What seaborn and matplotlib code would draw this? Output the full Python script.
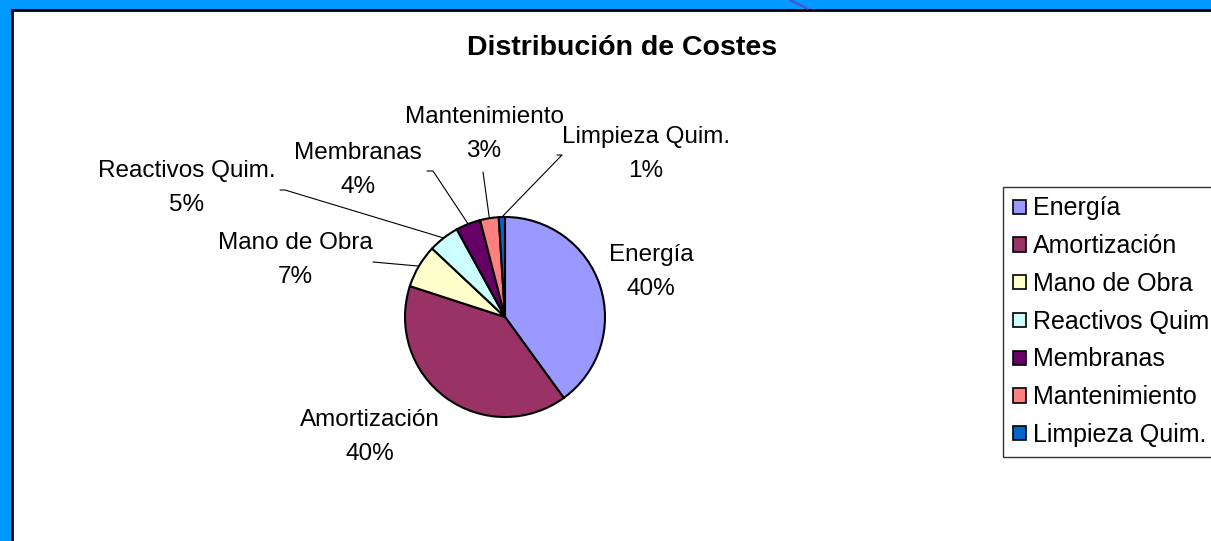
# Distribución de costes - gráfico de tarta estilo Excel
import matplotlib
matplotlib.use("Agg")
import matplotlib.pyplot as plt
import seaborn as sns
import numpy as np

# Datos
categorias = ["Energía", "Amortización", "Mano de Obra", "Reactivos Quim.",
              "Membranas", "Mantenimiento", "Limpieza Quim."]
porcentajes = [40, 40, 7, 5, 4, 3, 1]
colores = ["#9999FF", "#993366", "#FFFFCC", "#CCFFFF", "#660066", "#FF8080", "#0066CC"]

sns.set_style("white")
plt.rcParams["font.family"] = ["Liberation Sans", "DejaVu Sans"]
plt.rcParams["text.color"] = "black"

W, H = 1211, 541
fig = plt.figure(figsize=(W / 100, H / 100), dpi=100, facecolor="#0099FF")

# fondo blanco con borde negro arriba e izquierda
fondo = fig.add_axes([12 / W, 0, 1 - 12 / W, 1 - 10 / H])
fondo.set_facecolor("white")
fondo.set_xticks([])
fondo.set_yticks([])
for lado in ["right", "bottom"]:
    fondo.spines[lado].set_visible(False)
for lado in ["top", "left"]:
    fondo.spines[lado].set_color("black")
    fondo.spines[lado].set_linewidth(2)

# pequeña línea diagonal decorativa arriba
fig.add_artist(plt.Line2D([790 / W, 808 / W], [1, 1 - 9 / H], color="#5050C0", lw=1.5))

# ejes de la tarta: 1 unidad = 100 px, centro en (505, 317)
cx, cy, R = 505, 317, 100
ax = fig.add_axes([0, 0, 1, 1])
ax.axis("off")


def px(x, y):
    return (x - cx) / R, (cy - y) / R


wedges, _ = ax.pie(porcentajes, colors=sns.color_palette(colores), startangle=90,
                   counterclock=False, radius=1,
                   wedgeprops=dict(edgecolor="black", linewidth=1.5))
ax.set_xlim(-cx / R, (W - cx) / R)
ax.set_ylim(-(H - cy) / R, cy / R)

# etiquetas
pos_etiquetas = {
    "Energía": (651, 272),
    "Amortización": (370, 437),
    "Mano de Obra": (295, 260),
    "Reactivos Quim.": (187, 188),
    "Membranas": (358, 170),
    "Mantenimiento": (484, 134),
    "Limpieza Quim.": (646, 154),
}
for cat, pct in zip(categorias, porcentajes):
    x, y = px(*pos_etiquetas[cat])
    ax.text(x, y, f"{cat}\n{pct}%", ha="center", va="center", fontsize=17.5,
            linespacing=1.65, color="black")

# líneas guía
guias = {
    "Mano de Obra": [(373, 262)],
    "Reactivos Quim.": [(280, 190), (285, 190)],
    "Membranas": [(427, 171), (433, 171)],
    "Mantenimiento": [(483, 172)],
    "Limpieza Quim.": [(557, 155), (562, 155)],
}
for w, cat in zip(wedges, categorias):
    if cat not in guias:
        continue
    ang = np.deg2rad((w.theta1 + w.theta2) / 2)
    pts = [px(*p) for p in guias[cat]] + [(np.cos(ang), np.sin(ang))]
    xs, ys = zip(*pts)
    ax.plot(xs, ys, color="black", lw=0.8)

# título
fig.text(622 / W, 1 - 48 / H, "Distribución de Costes", ha="center", va="center",
         fontsize=20.5, fontweight="bold", color="black")

# leyenda
leg = fig.legend(wedges, categorias, loc="lower left",
                 bbox_to_anchor=(1003 / W, 84 / H), frameon=True, fancybox=False,
                 fontsize=18, handlelength=0.5, handleheight=0.5,
                 handletextpad=0.3, labelspacing=0.55, borderpad=0.4,
                 borderaxespad=0)
leg.get_frame().set_edgecolor("black")
leg.get_frame().set_linewidth(1)
for t in leg.get_texts():
    t.set_color("black")
for h in leg.legend_handles:
    h.set_linewidth(1.2)

fig.savefig("out.png", dpi=100, facecolor=fig.get_facecolor())
